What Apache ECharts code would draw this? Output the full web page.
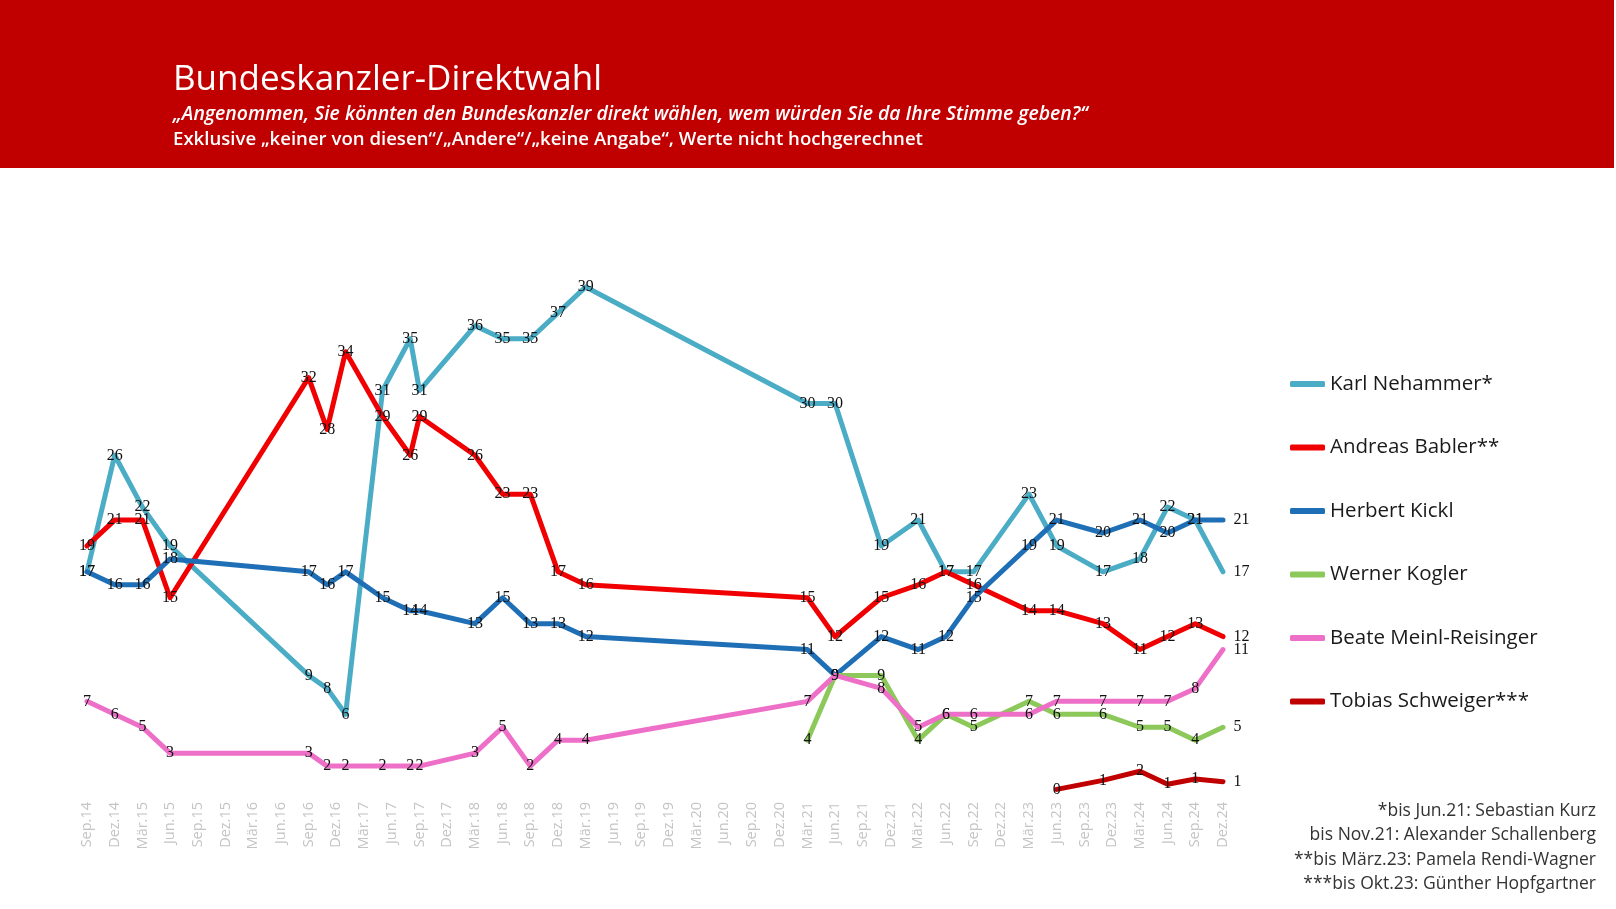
<!DOCTYPE html>
<html>
<head>
<meta charset="utf-8">
<script src="https://cdn.jsdelivr.net/npm/echarts@6/dist/echarts.min.js"></script>
<style>
html,body{margin:0;padding:0;background:#fff;}
#c{width:1616px;height:909px;}
</style>
</head>
<body>
<div id="c"></div>
<script>
// Quarter tick labels (month offsets 0,3,6,... from Sep.2014)
var tickLabels = ["Sep.14","Dez.14","Mär.15","Jun.15","Sep.15","Dez.15","Mär.16","Jun.16","Sep.16","Dez.16",
  "Mär.17","Jun.17","Sep.17","Dez.17","Mär.18","Jun.18","Sep.18","Dez.18","Mär.19","Jun.19",
  "Sep.19","Dez.19","Mär.20","Jun.20","Sep.20","Dez.20","Mär.21","Jun.21","Sep.21","Dez.21",
  "Mär.22","Jun.22","Sep.22","Dez.22","Mär.23","Jun.23","Sep.23","Dez.23","Mär.24","Jun.24",
  "Sep.24","Dez.24"];
// Survey dates as months since Sep.2014
var surveyMonths = [0,3,6,9,24,26,28,32,35,36,42,45,48,51,54,78,81,86,90,93,96,102,105,110,114,117,120,123];

var seriesNames = ["Karl Nehammer*","Andreas Babler**","Herbert Kickl","Werner Kogler","Beate Meinl-Reisinger","Tobias Schweiger***"];
var nehammer = [17,26,22,19,9,8,6,31,35,31,36,35,35,37,39,30,30,19,21,17,17,23,19,17,18,22,21,17];
var babler   = [19,21,21,15,32,28,34,29,26,29,26,23,23,17,16,15,12,15,16,17,16,14,14,13,11,12,13,12];
var kickl    = [17,16,16,18,17,16,17,15,14,14,13,15,13,13,12,11,9,12,11,12,15,19,21,20,21,20,21,21];
var kogler   = [null,null,null,null,null,null,null,null,null,null,null,null,null,null,null,4,9,9,4,6,5,7,6,6,5,5,4,5];
var meinl    = [7,6,5,3,3,2,2,2,2,2,3,5,2,4,4,7,9,8,5,6,6,6,7,7,7,7,8,11];
var schweiger= [null,null,null,null,null,null,null,null,null,null,null,null,null,null,null,null,null,null,null,null,null,null,0.2,0.9,1.6,0.6,1.0,0.8];

var footnotes = ["*bis Jun.21: Sebastian Kurz","bis Nov.21: Alexander Schallenberg","**bis März.23: Pamela Rendi-Wagner","***bis Okt.23: Günther Hopfgartner"];

var colors = ["#4BACC6","#F00000","#1F6FB6","#8DC85A","#EE6FC7","#C00000"];
var allValues = [nehammer,babler,kickl,kogler,meinl,schweiger];

function buildData(vals){
  var out=[]; var last=-1;
  for(var i=0;i<vals.length;i++){ if(vals[i]!==null) last=i; }
  for(var i=0;i<vals.length;i++){
    if(vals[i]===null) continue;
    var item={value:[surveyMonths[i],vals[i]]};
    if(i===last){ item.label={position:'right',distance:10}; }
    out.push(item);
  }
  return out;
}

var series = allValues.map(function(v,k){
  return {
    name: seriesNames[k],
    type:'line',
    data: buildData(v),
    symbol:'circle',
    symbolSize:1,
    showSymbol:true,
    lineStyle:{width:5,color:colors[k],join:'round',cap:'round'},
    itemStyle:{color:colors[k]},
    label:{show:true,position:'inside',color:'#111',fontFamily:'Liberation Serif',fontSize:16,
      formatter:function(p){return Math.round(p.value[1]);}},
    emphasis:{disabled:true},
    animation:false,
    z: 2+k
  };
});

var graphics = [
  {type:'rect',left:0,top:0,shape:{width:1614,height:168},style:{fill:'#C00000'},z:0},
  {type:'text',left:173,top:63,style:{text:'Bundeskanzler-Direktwahl',fill:'#fff',font:'35px "Open Sans"'}},
  {type:'text',left:173,top:105,style:{text:'„Angenommen, Sie könnten den Bundeskanzler direkt wählen, wem würden Sie da Ihre Stimme geben?“',fill:'#fff',font:'italic 600 19.4px "Open Sans"'}},
  {type:'text',left:173,top:130,style:{text:'Exklusive „keiner von diesen“/„Andere“/„keine Angabe“, Werte nicht hochgerechnet',fill:'#fff',font:'600 18.6px "Open Sans"'}}
];
footnotes.forEach(function(t,i){
  graphics.push({type:'text',right:20,top:802+i*24.3,style:{text:t,fill:'#333',font:'17.5px "Open Sans"'}});
});

var chart = echarts.init(document.getElementById('c'),null,{renderer:'canvas'});
chart.setOption({
  backgroundColor:'#fff',
  animation:false,
  color: colors,
  grid:{left:87,right:393,top:274,bottom:117,containLabel:false},
  xAxis:{type:'value',min:0,max:123,interval:3,
    axisLine:{show:false},axisTick:{show:false},splitLine:{show:false},
    axisLabel:{rotate:90,margin:10,color:'#C4C4C4',fontSize:14.5,fontFamily:'Open Sans',
      formatter:function(v){return tickLabels[Math.round(v/3)]||'';}}},
  yAxis:{type:'value',min:0,max:40,show:false,splitLine:{show:false}},
  legend:{orient:'vertical',left:1285,top:367,itemWidth:35,itemHeight:6,itemGap:39.5,
    icon:'roundRect',
    textStyle:{color:'#1a1a1a',fontSize:20.5,fontFamily:'Open Sans',lineHeight:24},
    data:seriesNames, selectedMode:false},
  graphic:graphics,
  series:series
});
</script>
</body>
</html>
